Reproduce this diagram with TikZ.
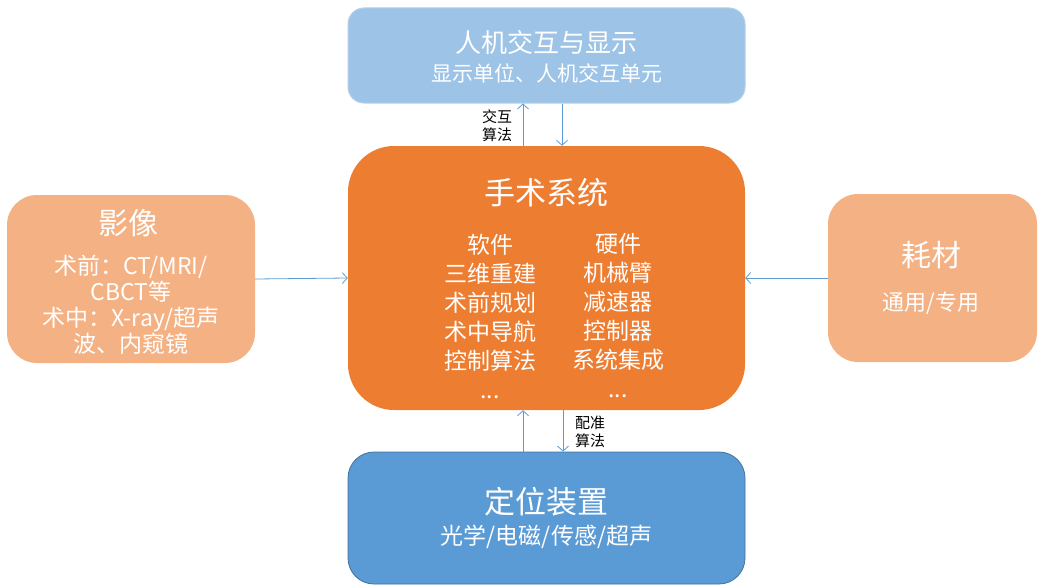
\documentclass[tikz,border=0pt]{standalone}
\usepackage{fontspec}
\setmainfont{Noto Sans CJK SC}
\usetikzlibrary{arrows.meta}
\definecolor{lblue}{HTML}{9DC3E6}
\definecolor{lblueb}{HTML}{B4D0EA}
\definecolor{orng}{HTML}{ED7D31}
\definecolor{lorng}{HTML}{F4B183}
\definecolor{mblue}{HTML}{5B9BD5}
\definecolor{mblueb}{HTML}{41719C}
\definecolor{arrc}{HTML}{5B9BD5}
\tikzset{
  box/.style={rectangle, inner sep=0pt},
  wtxt/.style={text=white, inner sep=0pt, align=center},
  arr/.style={draw=arrc, line width=0.8pt, -{Straight Barb[length=5pt,width=11pt]}},
  lbl/.style={text=black, inner sep=0pt, align=center, font=\fontsize{15}{18}\selectfont},
}
\begin{document}
\begin{tikzpicture}[x=1pt,y=-1pt]
\useasboundingbox (0,0) rectangle (1038,586);
% boxes
\node[box, fill=lblue, draw=lblueb, line width=1pt, rounded corners=16pt, minimum width=397pt, minimum height=95pt] (hmi) at (546.5,55.5) {};
\node[box, fill=orng, rounded corners=46pt, minimum width=397pt, minimum height=264pt] (sys) at (546.5,278) {};
\node[box, fill=lorng, rounded corners=30pt, minimum width=248pt, minimum height=168pt] (img) at (131,279) {};
\node[box, fill=lorng, rounded corners=30pt, minimum width=209pt, minimum height=168pt] (mat) at (932.5,278) {};
\node[box, fill=mblue, draw=mblueb, line width=0.8pt, rounded corners=26pt, minimum width=397pt, minimum height=132pt] (loc) at (546.5,518) {};
% texts
\node[wtxt, font=\fontsize{26}{30}\selectfont] (hmit) at (546.5,43) {人机交互与显示};
\node[wtxt, font=\fontsize{21}{26}\selectfont] (hmis) at (546.5,73) {显示单位、人机交互单元};
\node[wtxt, font=\fontsize{31}{36}\selectfont] (syst) at (546.5,193) {手术系统};
\node[wtxt, font=\fontsize{23}{29}\selectfont] (soft) at (490,316) {软件\\三维重建\\术前规划\\术中导航\\控制算法\\...};
\node[wtxt, font=\fontsize{23}{29}\selectfont] (hard) at (618,316) {硬件\\机械臂\\减速器\\控制器\\系统集成\\...};
\node[wtxt, font=\fontsize{30}{34}\selectfont] (imgt) at (128,223) {影像};
\node[wtxt, font=\fontsize{23}{26}\selectfont] (imgs) at (131,305) {术前：CT/MRI/\\CBCT等\\术中：X-ray/超声\\波、内窥镜};
\node[wtxt, font=\fontsize{30}{34}\selectfont] (matt) at (931,255) {耗材};
\node[wtxt, font=\fontsize{22}{26}\selectfont] (mats) at (931,303) {通用/专用};
\node[wtxt, font=\fontsize{31}{36}\selectfont] (loct) at (546.5,502) {定位装置};
\node[wtxt, font=\fontsize{23}{28}\selectfont] (locs) at (546.5,537) {光学/电磁/传感/超声};
% arrows
\draw[arr] ([xshift=-23.5pt]sys.north) -- ([xshift=-23.5pt]hmi.south);
\draw[arr] ([xshift=15.5pt]hmi.south) -- ([xshift=15.5pt]sys.north);
\draw[arr] ([xshift=-23.5pt]loc.north) -- ([xshift=-23.5pt]sys.south);
\draw[arr] ([xshift=16.5pt]sys.south) -- ([xshift=16.5pt]loc.north);
\draw[arr] (img.east) -- (sys.west);
\draw[arr] (mat.west) -- (sys.east);
% labels
\node[lbl] (l1) at (497,126) {交互\\算法};
\node[lbl] (l2) at (590,432) {配准\\算法};
\end{tikzpicture}
\end{document}
